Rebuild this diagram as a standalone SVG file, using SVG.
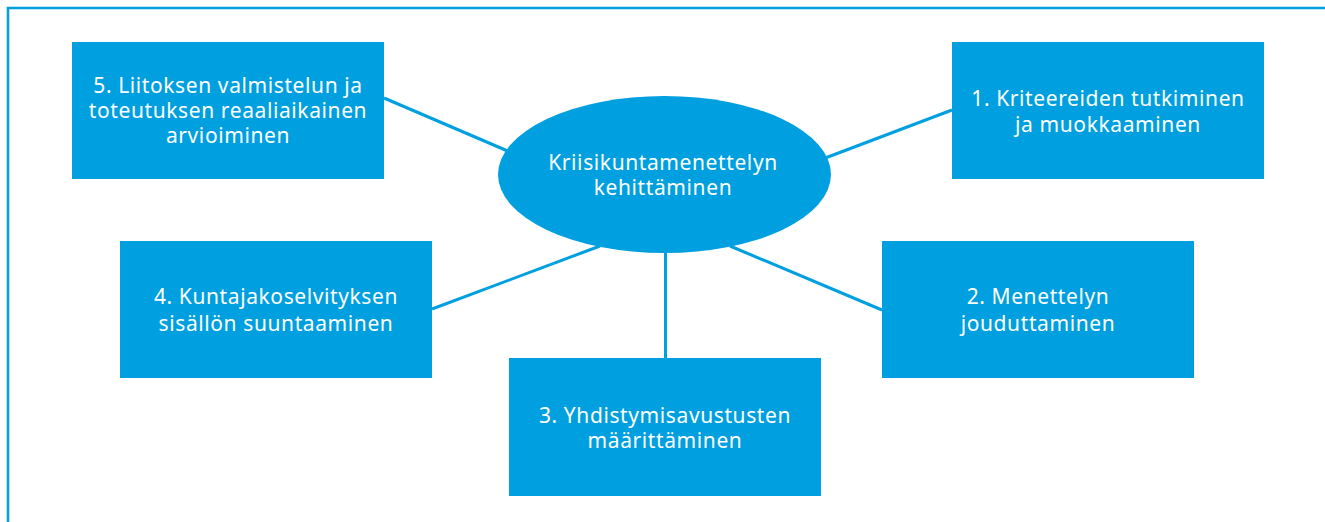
<svg xmlns="http://www.w3.org/2000/svg" width="1325" height="522" viewBox="0 0 1325 522">
<style>
.box{fill:#009FE0}
.t{font-family:"Noto Sans","Open Sans",sans-serif;font-size:21px;letter-spacing:0.6px;fill:#ffffff;text-anchor:middle}
.c{stroke:#009FE0;stroke-width:3;fill:none}
</style>
<rect width="1325" height="522" fill="#ffffff"/>
<path d="M8 522 V8 H1325" fill="none" stroke="#009FE0" stroke-width="2.5"/>
<g id="connectors">
<line class="c" x1="384" y1="98" x2="510" y2="152"/>
<line class="c" x1="820" y1="160" x2="952" y2="110"/>
<line class="c" x1="665.5" y1="245" x2="665.5" y2="358"/>
<line class="c" x1="432" y1="309" x2="600" y2="246"/>
<line class="c" x1="730" y1="246" x2="882" y2="310"/>
</g>
<g id="center">
<ellipse cx="664.5" cy="174.5" rx="166.5" ry="78.5" class="box"/>
<text class="t" x="663" y="170">Kriisikuntamenettelyn</text>
<text class="t" x="663" y="195">kehittäminen</text>
</g>
<g id="n5">
<rect class="box" x="72" y="42" width="312" height="137"/>
<text class="t" x="228" y="93">5. Liitoksen valmistelun ja</text>
<text class="t" x="228" y="118">toteutuksen reaaliaikainen</text>
<text class="t" x="228" y="143">arvioiminen</text>
</g>
<g id="n1">
<rect class="box" x="952" y="42" width="312" height="137"/>
<text class="t" x="1108" y="106">1. Kriteereiden tutkiminen</text>
<text class="t" x="1108" y="132">ja muokkaaminen</text>
</g>
<g id="n4">
<rect class="box" x="120" y="241" width="312" height="137"/>
<text class="t" x="276" y="304">4. Kuntajakoselvityksen</text>
<text class="t" x="276" y="331">sisällön suuntaaminen</text>
</g>
<g id="n2">
<rect class="box" x="882" y="241" width="312" height="137"/>
<text class="t" x="1038" y="304">2. Menettelyn</text>
<text class="t" x="1038" y="331">jouduttaminen</text>
</g>
<g id="n3">
<rect class="box" x="509" y="358" width="312" height="138"/>
<text class="t" x="665" y="423">3. Yhdistymisavustusten</text>
<text class="t" x="665" y="448">määrittäminen</text>
</g>
</svg>
